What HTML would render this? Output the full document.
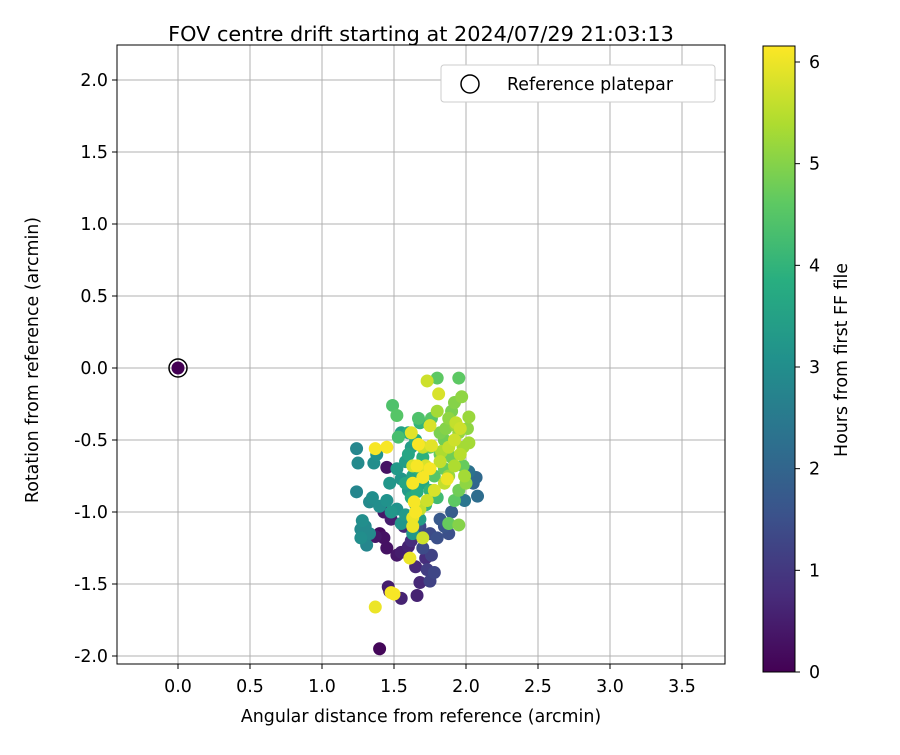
<!DOCTYPE html>
<html><head><meta charset="utf-8"><style>
body{margin:0;background:#fff}
svg text{font-family:"DejaVu Sans","Liberation Sans",sans-serif;fill:#000}
</style></head><body>
<svg id="chart" width="900" height="750">
<defs>
<linearGradient id="vir" x1="0" y1="1" x2="0" y2="0">
<stop offset="0" stop-color="#440154"/><stop offset="0.125" stop-color="#472d7b"/><stop offset="0.25" stop-color="#3b528b"/><stop offset="0.375" stop-color="#2c728e"/><stop offset="0.5" stop-color="#21918c"/><stop offset="0.625" stop-color="#28ae80"/><stop offset="0.75" stop-color="#5ec962"/><stop offset="0.875" stop-color="#addc30"/><stop offset="1" stop-color="#fde725"/>
</linearGradient>
<clipPath id="clip"><rect x="117" y="45" width="608" height="619"/></clipPath>
</defs>
<text x="421" y="41" font-size="20.8" text-anchor="middle">FOV centre drift starting at 2024/07/29 21:03:13</text>
<g id="grid"></g>
<g id="pts" clip-path="url(#clip)"></g>
<rect x="117" y="45" width="608" height="619" fill="none" stroke="#000" stroke-width="1"/>
<g id="ticks"></g>
<text x="421" y="722" font-size="17.4" text-anchor="middle">Angular distance from reference (arcmin)</text>
<text transform="translate(38,360) rotate(-90)" font-size="17.4" text-anchor="middle">Rotation from reference (arcmin)</text>
<g>
<rect x="441" y="65" width="274" height="37" rx="3" fill="#fff" stroke="#ccc"/>
<circle cx="470" cy="84" r="9" fill="none" stroke="#000" stroke-width="1.5"/>
<text x="507" y="90" font-size="17.4">Reference platepar</text>
</g>
<rect x="763" y="46" width="32" height="626" fill="url(#vir)" stroke="#000" stroke-width="1"/>
<g id="cticks"></g>
<text transform="translate(847,360) rotate(-90)" font-size="17.4" text-anchor="middle">Hours from first FF file</text>
</svg>
<script>
const xTicks=[0,0.5,1,1.5,2,2.5,3,3.5];
const yTicks=[2,1.5,1,0.5,0,-0.5,-1,-1.5,-2];
const cTicks=[0,1,2,3,4,5,6];
const xs=[1.45,1.40,1.43,1.37,1.45,1.52,1.46,1.47,1.55,1.66,1.40,1.43,1.48,1.55,1.60,1.65,1.68,1.72,1.62,1.57,
1.75,1.78,1.73,1.70,1.80,1.85,1.88,1.75,1.82,1.90,1.68,1.76,1.66,
2.07,2.08,2.02,2.05,1.99,
1.24,1.25,1.24,1.28,1.27,1.27,1.31,1.33,1.35,1.36,1.38,1.30,1.33,1.45,1.40,1.48,1.52,1.55,1.58,1.60,1.55,1.58,1.62,1.55,1.47,1.52,1.65,1.68,1.63,
1.60,1.65,1.63,1.70,1.70,1.75,1.62,1.67,1.72,1.60,1.68,1.80,1.58,1.66,
1.49,1.52,1.53,1.67,1.76,1.80,1.95,1.75,1.82,1.78,1.85,1.95,1.88,1.92,1.85,1.90,1.98,1.90,1.82,
1.97,1.92,2.02,2.01,2.02,1.95,1.98,1.93,1.88,1.86,1.95,2.00,1.88,1.80,1.83,1.92,1.96,1.99,
1.73,1.81,1.93,1.96,1.82,1.72,1.63,1.70,1.76,1.68,1.70,1.88,1.75,1.92,1.62,1.78,1.73,1.85,
1.37,1.45,1.37,1.48,1.50,1.61,1.66,1.75,1.87,1.63,1.70,1.65,1.63,1.64,1.67,1.63,0];
const ys=[-0.69,-1.15,-1.18,-1.17,-1.25,-1.30,-1.52,-1.55,-1.60,-1.58,-1.95,-1.00,-1.05,-1.28,-1.24,-1.38,-1.49,-1.32,-1.20,-1.10,
-1.48,-1.42,-1.40,-1.25,-1.18,-1.10,-1.15,-1.15,-1.05,-1.00,-1.10,-1.30,-1.10,
-0.76,-0.89,-0.72,-0.80,-0.92,
-0.56,-0.66,-0.86,-1.06,-1.12,-1.18,-1.23,-0.93,-0.90,-0.66,-0.60,-1.10,-1.15,-0.92,-0.96,-1.00,-0.98,-1.08,-1.02,-0.85,-0.77,-0.65,-0.55,-0.45,-0.80,-0.70,-0.95,-1.05,-1.15,
-0.60,-0.50,-0.75,-0.62,-0.80,-0.85,-0.90,-0.70,-0.95,-0.45,-0.38,-0.90,-0.80,-0.86,
-0.26,-0.33,-0.48,-0.35,-0.35,-0.07,-0.07,-0.55,-0.60,-0.75,-0.70,-0.85,-1.08,-0.92,-0.50,-0.62,-0.68,-0.30,-0.45,
-0.20,-0.24,-0.34,-0.42,-0.52,-0.45,-0.55,-0.40,-0.35,-0.42,-1.09,-0.80,-0.75,-0.30,-0.58,-0.68,-0.60,-0.75,
-0.09,-0.18,-0.38,-0.42,-0.65,-0.68,-0.68,-0.55,-0.54,-0.98,-1.18,-0.55,-0.40,-0.50,-0.45,-0.85,-0.92,-0.80,
-0.56,-0.55,-1.66,-1.56,-1.57,-1.32,-0.68,-0.70,-0.77,-0.80,-0.76,-1.00,-1.04,-0.93,-0.53,-1.10,0];
const hours=[0.3,0.2,0.3,0.4,0.3,0.4,0.5,0.5,0.6,0.6,0.1,0.4,0.5,0.5,0.6,0.7,0.7,0.8,0.8,0.7,
1.2,1.3,1.1,1.4,1.5,1.6,1.5,1.4,1.7,1.8,1.3,1.2,1.5,
2.1,2.2,2.3,2.0,2.4,
2.8,2.9,2.8,3.0,2.9,3.0,2.8,2.9,3.0,3.0,3.1,2.9,2.9,3.1,3.0,3.2,3.1,3.2,3.3,3.3,3.2,3.4,3.4,3.5,3.2,3.3,3.3,3.4,3.2,
3.6,3.8,3.6,3.9,3.7,4.0,3.7,3.9,4.1,3.8,4.0,4.2,3.6,3.8,
4.4,4.5,4.3,4.4,4.5,4.6,4.6,4.6,4.7,4.5,4.7,4.8,4.7,4.6,4.8,4.8,4.7,4.9,4.9,
5.1,5.0,5.2,5.1,5.3,5.2,5.3,5.2,5.1,5.0,5.0,5.1,5.2,5.3,5.4,5.4,5.5,5.3,
5.7,5.8,5.6,5.7,5.6,5.8,5.8,5.7,5.9,5.6,5.7,5.6,5.8,5.7,5.9,5.8,5.7,5.6,
6.1,6.1,6.0,6.1,6.1,6.0,6.1,6.1,6.0,6.1,6.1,6.1,6.0,6.1,6.1,6.0,0];
const NS='http://www.w3.org/2000/svg';
const X=v=>178+v*144, Y=v=>368-v*144;
function CY(v){return 672-v*(610/6);}
const stops=[[68,1,84],[71,45,123],[59,82,139],[44,114,142],[33,145,140],[40,174,128],[94,201,98],[173,220,48],[253,231,37]];
function vir(h){let t=Math.max(0,Math.min(1,h/6.16))*8;let i=Math.min(7,Math.floor(t));let f=t-i;
const c=stops[i].map((a,k)=>Math.round(a+(stops[i+1][k]-a)*f));return `rgb(${c[0]},${c[1]},${c[2]})`;}
function mk(tag,attrs,parent){const e=document.createElementNS(NS,tag);for(const k in attrs)e.setAttribute(k,attrs[k]);parent.appendChild(e);return e;}
const grid=document.getElementById('grid'),ticks=document.getElementById('ticks');
xTicks.forEach(v=>{
 const l=mk('line',{x1:X(v),x2:X(v),y1:45,y2:664,stroke:'#b0b0b0','stroke-width':1},grid);
 
 
 const t=mk('line',{x1:X(v),x2:X(v),y1:664,y2:669,stroke:'#000'},ticks);
 
 
 const tx=mk('text',{x:X(v),y:692,'font-size':17.4,'text-anchor':'middle'},ticks);tx.textContent=v.toFixed(1);
 
 
});
yTicks.forEach(v=>{
 const l=mk('line',{x1:117,x2:725,y1:Y(v),y2:Y(v),stroke:'#b0b0b0','stroke-width':1},grid);
 
 
 const t=mk('line',{x1:112,x2:117,y1:Y(v),y2:Y(v),stroke:'#000'},ticks);
 
 
 const tx=mk('text',{x:108,y:Y(v)+6,'font-size':17.4,'text-anchor':'end'},ticks);tx.textContent=v.toFixed(1);
 
 
});
const ct=document.getElementById('cticks');
cTicks.forEach(v=>{
 const t=mk('line',{x1:795,x2:800,y1:CY(v),y2:CY(v),stroke:'#000'},ct);
 
 
 const tx=mk('text',{x:809,y:CY(v)+6,'font-size':17.4},ct);tx.textContent=v;
 
 
});
const pts=document.getElementById('pts');
const idx=xs.map((_,i)=>i).sort((a,b)=>hours[a]-hours[b]);
idx.forEach(i=>{
 const c=mk('circle',{cx:X(xs[i]),cy:Y(ys[i]),r:6.5,fill:vir(hours[i])},pts);
 
 
});
const ref=mk('circle',{cx:X(0),cy:Y(0),r:9,fill:'none',stroke:'#000','stroke-width':1.5},pts);


</script>
</body></html>
